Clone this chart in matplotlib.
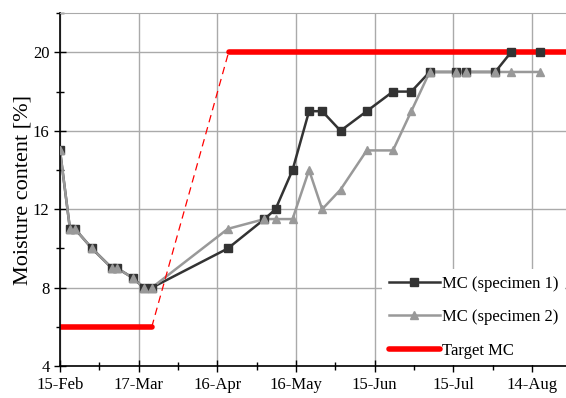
import matplotlib.pyplot as plt
from matplotlib.ticker import MultipleLocator

plt.rcParams['font.family'] = ['Liberation Serif', 'DejaVu Serif']

# days since 15-Feb
days = [0, 3.8, 5.7, 12.2, 19.8, 21.7, 27.8, 32, 35, 64, 78, 82.2, 88.7, 95, 100,
        107, 117, 127, 134, 141, 151, 155, 166, 172, 183]
mc1 = [15, 11, 11, 10, 9, 9, 8.5, 8, 8, 10, 11.5, 12, 14, 17, 17,
       16, 17, 18, 18, 19, 19, 19, 19, 20, 20]
mc2 = [15, 11, 11, 10, 9, 9, 8.5, 8, 8, 11, 11.5, 11.5, 11.5, 14, 12,
       13, 15, 15, 17, 19, 19, 19, 19, 19, 19]

target_low_days = [0, 35]
target_low = [6, 6]
target_ramp_days = [35, 64.3]
target_ramp = [6, 20]
target_high_days = [64.3, 193]
target_high = [20, 20]

tick_days = [0, 30, 60, 90, 120, 150, 180]
tick_labels = ['15-Feb', '17-Mar', '16-Apr', '16-May', '15-Jun', '15-Jul', '14-Aug']

fig = plt.figure(figsize=(5.66, 3.98), dpi=100)
ax = fig.add_axes([0.106, 0.080, 0.894, 0.887])

c1 = '#333333'
c2 = '#999999'

ax.plot(days, mc1, color=c1, lw=1.8, zorder=2)
ax.plot(days, mc2, color=c2, lw=1.8, zorder=2.1)

ax.plot(target_ramp_days, target_ramp, color='red', lw=0.9, ls=(0, (6, 4)), zorder=2.3)
ax.plot(target_low_days, target_low, color='red', lw=4, solid_capstyle='round', zorder=2.4)
ax.plot(target_high_days, target_high, color='red', lw=4, solid_capstyle='round', zorder=2.4)

ax.plot(days, mc1, ls='none', marker='s', ms=6, color=c1, zorder=3)
ax.plot(days, mc2, ls='none', marker='^', ms=6, color=c2, zorder=3.1)

# legend proxies
h1, = ax.plot([], [], color=c1, lw=1.8, marker='s', ms=6, label='MC (specimen 1)')
h2, = ax.plot([], [], color=c2, lw=1.8, marker='^', ms=6, label='MC (specimen 2)')
h3, = ax.plot([], [], color='red', lw=4, solid_capstyle='round', label='Target MC')
leg = ax.legend(handles=[h1, h2, h3], loc='lower right', frameon=True, fancybox=False,
                edgecolor='none', facecolor='white', framealpha=1, fontsize=12,
                handlelength=3.1, handletextpad=0.1, labelspacing=1.05,
                borderaxespad=0.05, borderpad=0.4)
leg.set_zorder(5)

ax.set_xlim(0, 193)
ax.set_ylim(4, 22)
ax.set_xticks(tick_days)
ax.set_xticklabels(tick_labels)
ax.xaxis.set_minor_locator(MultipleLocator(15))
ax.set_yticks([4, 8, 12, 16, 20])
ax.yaxis.set_minor_locator(MultipleLocator(2))
ax.tick_params(which='major', direction='inout', length=8, width=1, labelsize=12, colors='black')
ax.tick_params(which='minor', direction='inout', length=6, width=1)

ax.grid(True, which='major', color='#aaaaaa', lw=1)
ax.set_axisbelow(True)
ax.spines['right'].set_visible(False)
ax.spines['top'].set_color('#aaaaaa')
ax.spines['left'].set_linewidth(1.2)
ax.spines['bottom'].set_linewidth(1.2)

ax.set_ylabel('Moisture content [%]', fontsize=16, labelpad=0)

fig.savefig('out.png', dpi=100)
